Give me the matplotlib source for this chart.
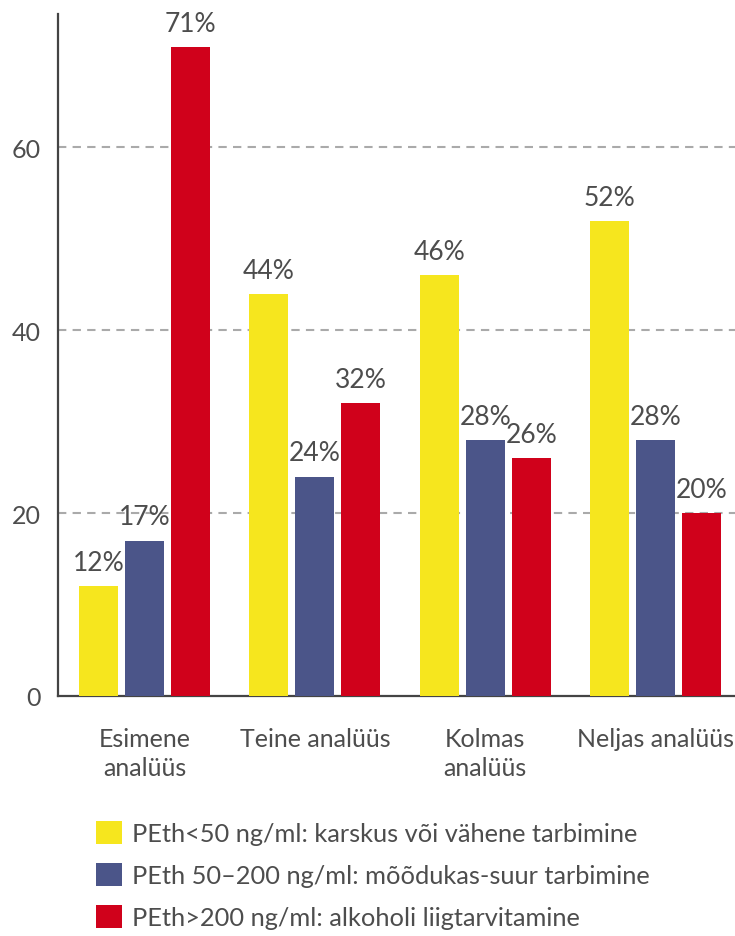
import matplotlib
matplotlib.use("Agg")
import matplotlib.pyplot as plt
import numpy as np
from matplotlib.patches import Patch

categories = ["Esimene\nanalüüs", "Teine analüüs", "Kolmas\nanalüüs", "Neljas analüüs"]
series_names = [
    "PEth<50 ng/ml: karskus või vähene tarbimine",
    "PEth 50–200 ng/ml: mõõdukas-suur tarbimine",
    "PEth>200 ng/ml: alkoholi liigtarvitamine",
]
low = [12, 44, 46, 52]
mid = [17, 24, 28, 28]
high = [71, 32, 26, 20]
yticks = [0, 20, 40, 60]

colors = ["#F6E61E", "#4B5589", "#D0011B"]
text_color = "#4D4D4D"

plt.rcParams["font.family"] = ["Lato", "DejaVu Sans"]

fig = plt.figure(figsize=(7.35, 9.37), dpi=100)
ax = fig.add_axes([58 / 735, 240 / 937, 677 / 735, 682 / 937])

x = np.arange(len(categories))
offset = 0.27
width = 0.229
for i, (vals, col) in enumerate(zip([low, mid, high], colors)):
    bars = ax.bar(x + (i - 1) * offset, vals, width=width, color=col, zorder=3)
    ax.bar_label(bars, labels=[f"{v}%" for v in vals], padding=8,
                 fontsize=19, color=text_color)

ax.set_xlim(-0.508, 3.467)
ax.set_ylim(0, 74.6)
ax.set_yticks(yticks)
ax.set_yticklabels([str(t) for t in yticks])
ax.set_xticks(x)
ax.set_xticklabels(categories, linespacing=1.33)
ax.tick_params(axis="y", length=0, pad=12.5, labelsize=18, labelcolor=text_color)
ax.tick_params(axis="x", length=0, pad=22, labelsize=18, labelcolor=text_color)

for t in yticks[1:]:
    ax.axhline(t, color="#AAAAAA", lw=1.5, ls=(0, (4, 3)), zorder=1)

for s in ["top", "right"]:
    ax.spines[s].set_visible(False)
ax.spines["left"].set_color("#444444")
ax.spines["bottom"].set_color("#444444")
ax.spines["left"].set_linewidth(1.6)
ax.spines["bottom"].set_linewidth(1.6)

handles = [Patch(facecolor=c, edgecolor="none") for c in colors]
fig.legend(handles, series_names, loc="upper left",
           bbox_to_anchor=(86 / 735, 1 - 812 / 937), frameon=False,
           fontsize=18.3, labelcolor=text_color, handlelength=1.0,
           handleheight=1.0, handletextpad=0.4, labelspacing=0.71,
           borderaxespad=0)

fig.savefig("out.png", dpi=100)
